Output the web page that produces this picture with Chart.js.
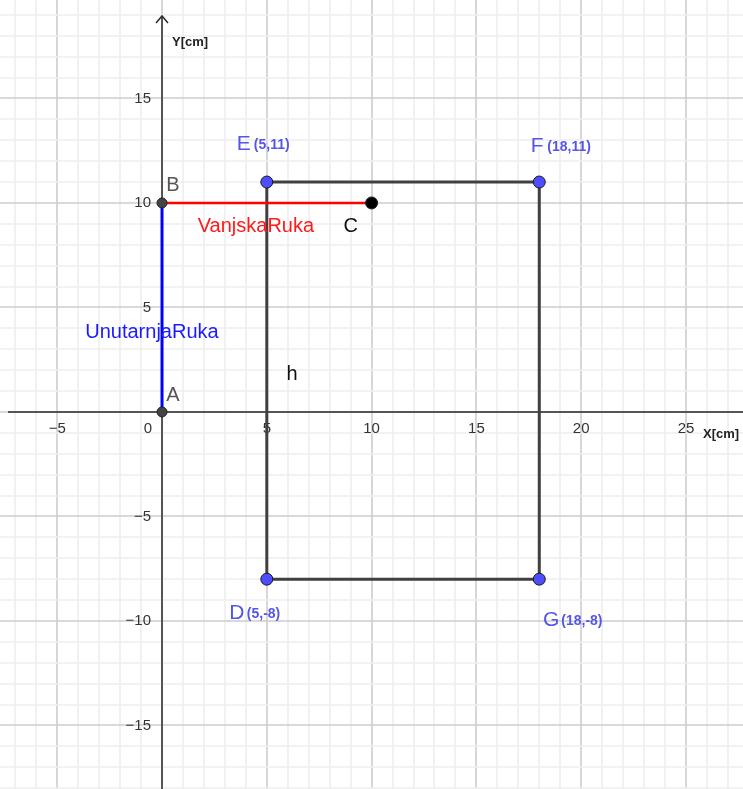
<!DOCTYPE html>
<html>
<head>
<meta charset="utf-8">
<script src="https://cdn.jsdelivr.net/npm/chart.js@4"></script>
<style>
  body { margin: 0; background: #fff; }
  canvas { display: block; }
</style>
</head>
<body>
<canvas id="grafico" width="743" height="789"></canvas>
<script>
// Vrhovi pravokutnika
const cornerNames = ['E', 'F', 'G', 'D'];
const cornerX = [5, 18, 18, 5];
const cornerY = [11, 11, -8, -8];

// Ruka: A -> B (unutarnja), B -> C (vanjska)
const armNames = ['A', 'B', 'C'];
const armX = [0, 0, 10];
const armY = [0, 10, 10];

// Oznake na osima
const xTicks = [-5, 5, 10, 15, 20, 25];
const yTicks = [-15, -10, -5, 5, 10, 15];

// Tekstovi
const segmentLabels = ['VanjskaRuka', 'UnutarnjaRuka', 'h'];
const segmentLabelX = [4.48, -0.48, 6.2];
const segmentLabelY = [8.85, 3.8, 1.77];

const viewX = [-7.73, 27.72];
const viewY = [-18.04, 19.71];

const labelBlue = '#5555e8';

function pts(xs, ys) {
  return xs.map((x, i) => ({ x: x, y: ys[i] }));
}

const rectPts = pts(cornerX, cornerY);
rectPts.push({ x: cornerX[0], y: cornerY[0] });

// mreza i osi
const gridPlugin = {
  id: 'mreza',
  beforeDatasetsDraw(chart) {
    const c = chart.ctx;
    const xs = chart.scales.x, ys = chart.scales.y;
    const area = chart.chartArea;
    c.save();
    c.lineWidth = 1.6;
    for (let v = Math.ceil(viewX[0]); v <= viewX[1]; v++) {
      const p = Math.round(xs.getPixelForValue(v));
      c.strokeStyle = v % 5 === 0 ? '#cdcdcd' : '#eeeeee';
      c.beginPath(); c.moveTo(p, area.top); c.lineTo(p, area.bottom); c.stroke();
    }
    for (let v = Math.ceil(viewY[0]); v <= viewY[1]; v++) {
      const p = Math.round(ys.getPixelForValue(v));
      c.strokeStyle = v % 5 === 0 ? '#cdcdcd' : '#eeeeee';
      c.beginPath(); c.moveTo(area.left, p); c.lineTo(area.right, p); c.stroke();
    }
    const ox = xs.getPixelForValue(0), oy = ys.getPixelForValue(0);
    c.strokeStyle = '#2a2a2a';
    c.lineWidth = 1.5;
    c.beginPath(); c.moveTo(8, oy); c.lineTo(area.right, oy); c.stroke();
    c.beginPath(); c.moveTo(ox, 16); c.lineTo(ox, area.bottom); c.stroke();
    c.beginPath(); c.moveTo(ox - 6, 23); c.lineTo(ox, 16); c.lineTo(ox + 6, 23); c.stroke();

    c.fillStyle = '#333';
    c.font = '15px "Liberation Sans", Arial, sans-serif';
    c.textAlign = 'center';
    c.textBaseline = 'middle';
    xTicks.forEach(v => {
      c.fillText(String(v).replace('-', '\u2212'), xs.getPixelForValue(v), oy + 17);
    });
    c.fillText('0', ox - 14, oy + 17);
    c.textAlign = 'right';
    yTicks.forEach(v => {
      c.fillText(String(v).replace('-', '\u2212'), ox - 11, ys.getPixelForValue(v));
    });
    c.font = 'bold 13px "Liberation Sans", Arial, sans-serif';
    c.fillStyle = '#222';
    c.textAlign = 'left';
    c.fillText('X[cm]', 703, oy + 22);
    c.fillText('Y[cm]', ox + 10, 42);
    c.restore();
  },
  afterDatasetsDraw(chart) {
    const c = chart.ctx;
    const xs = chart.scales.x, ys = chart.scales.y;
    c.save();
    c.textBaseline = 'middle';
    // oznake vrhova
    const cornerOff = [[-23, -38], [-2, -36], [12, 41], [-30, 34]];
    cornerNames.forEach((n, i) => {
      const px = xs.getPixelForValue(cornerX[i]) + cornerOff[i][0];
      const py = ys.getPixelForValue(cornerY[i]) + cornerOff[i][1];
      c.fillStyle = labelBlue;
      c.font = '21px "Liberation Sans", Arial, sans-serif';
      c.textAlign = 'center';
      c.fillText(n, px, py);
      c.font = 'bold 14px "Liberation Sans", Arial, sans-serif';
      c.textAlign = 'left';
      c.fillText('(' + cornerX[i] + ',' + cornerY[i] + ')', px + 10, py + 1);
    });
    const armOff = [[11, -16], [11, -17], [-21, 24]];
    const armCol = ['#555', '#555', '#111'];
    c.font = '20px "Liberation Sans", Arial, sans-serif';
    c.textAlign = 'center';
    armNames.forEach((n, i) => {
      c.fillStyle = armCol[i];
      c.fillText(n, xs.getPixelForValue(armX[i]) + armOff[i][0], ys.getPixelForValue(armY[i]) + armOff[i][1]);
    });
    const segCol = ['#ff1a1a', '#1a1aff', '#111'];
    segmentLabels.forEach((t, i) => {
      c.fillStyle = segCol[i];
      c.fillText(t, xs.getPixelForValue(segmentLabelX[i]), ys.getPixelForValue(segmentLabelY[i]));
    });
    c.restore();
  }
};

const ctx = document.getElementById('grafico').getContext('2d');
const grafico = new Chart(ctx, {
  type: 'scatter',
  data: {
    datasets: [
      {
        label: 'h',
        data: rectPts,
        showLine: true,
        borderColor: '#404040',
        borderWidth: 3,
        pointRadius: c => (c.dataIndex === 4 ? 0 : 6),
        pointBackgroundColor: '#4d4dff',
        pointBorderColor: '#1a1a1a',
        pointBorderWidth: 1,
        order: 3
      },
      {
        label: 'VanjskaRuka',
        data: pts(armX.slice(1), armY.slice(1)),
        showLine: true,
        borderColor: '#ff0000',
        borderWidth: 2.5,
        pointRadius: [5, 6],
        pointBackgroundColor: ['#444', '#000'],
        pointBorderColor: '#222',
        pointBorderWidth: 1,
        order: 1
      },
      {
        label: 'UnutarnjaRuka',
        data: pts(armX.slice(0, 2), armY.slice(0, 2)),
        showLine: true,
        borderColor: '#0000ff',
        borderWidth: 3,
        pointRadius: [5, 0],
        pointBackgroundColor: '#444',
        pointBorderColor: '#222',
        pointBorderWidth: 1,
        order: 2
      }
    ]
  },
  options: {
    responsive: false,
    animation: false,
    devicePixelRatio: 1,
    layout: { padding: 0, autoPadding: false },
    scales: {
      x: { type: 'linear', min: viewX[0], max: viewX[1], display: false },
      y: { type: 'linear', min: viewY[0], max: viewY[1], display: false }
    },
    plugins: {
      legend: { display: false },
      tooltip: { enabled: false }
    }
  },
  plugins: [gridPlugin]
});
</script>
</body>
</html>
